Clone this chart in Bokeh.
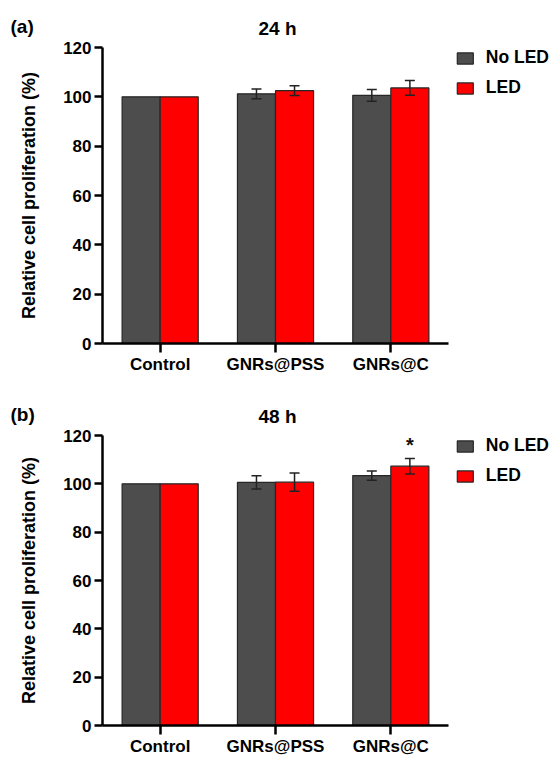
from bokeh.plotting import figure
from bokeh.models import (ColumnDataSource, Range1d, Whisker, TeeHead,
                          Legend, LegendItem, FixedTicker, Title)
from bokeh.transform import dodge
from bokeh.layouts import column
from bokeh.core.properties import value
from bokeh.embed import file_html
from bokeh.resources import INLINE

# ---------------- data ----------------
categories = ["Control", "GNRs@PSS", "GNRs@C"]
series_names = ["No LED", "LED"]

a_noled = [100.0, 101.2, 100.6]
a_noled_err = [0.0, 2.0, 2.4]
a_led = [100.0, 102.5, 103.6]
a_led_err = [0.0, 2.0, 3.0]

b_noled = [100.0, 100.6, 103.4]
b_noled_err = [0.0, 2.7, 1.9]
b_led = [100.0, 100.7, 107.3]
b_led_err = [0.0, 3.8, 3.2]
b_led_sig = ["", "", "*"]

y_ticks = [0, 20, 40, 60, 80, 100, 120]

panel_tags = ["(a)", "(b)"]
panel_titles = ["24 h", "48 h"]
y_label = "Relative cell proliferation (%)"

# ---------------- style ----------------
FONT = "Liberation Sans"
DARK = "#4d4d4d"
RED = "#ff0000"
EDGE = "#262626"
BW = 0.33
OFF = 0.165
W = 554
LEFT = 102
RIGHT = 5
AXIS_W = 346                      # pixel length of the drawn x axis
FW = W - LEFT - RIGHT             # full frame width (axis + legend area)
N = len(categories)
X_END = -0.5 + FW / (AXIS_W / N)  # extend range so the legend sits inside the frame
TITLE_PX = 19
TITLE_W = 2.0 * TITLE_PX          # approx. width of "24 h" in bold Arial metrics


def make_panel(tag, title, noled, noled_err, led, led_err, sig, height, top, bottom):
    xi = list(range(N))
    p = figure(width=W, height=height, x_range=Range1d(-0.5, X_END),
               y_range=Range1d(0, 120), output_backend="svg", toolbar_location=None,
               min_border_left=LEFT, min_border_right=RIGHT, min_border_top=top,
               min_border_bottom=bottom)
    p.outline_line_color = None
    p.grid.visible = False

    # titles: centred over the axis, panel tag at the far left on the same line
    p.title.text = title
    p.title.align = "left"
    p.title.offset = AXIS_W / 2 + 2 - TITLE_W / 2
    p.title.text_font = FONT
    p.title.text_font_style = "bold"
    p.title.text_font_size = f"{TITLE_PX}px"
    p.title.text_color = "black"
    p.title.standoff = -72
    p.add_layout(Title(text=tag, align="left", offset=-LEFT + 10, standoff=22,
                       text_font=FONT, text_font_style="bold", text_font_size=f"{TITLE_PX}px",
                       text_color="black"), "above")

    src = ColumnDataSource(dict(xi=xi, noled=noled, led=led))
    r1 = p.vbar(x=dodge("xi", -OFF), top="noled", width=BW, source=src,
                fill_color=DARK, line_color=EDGE, line_width=1.2)
    r2 = p.vbar(x=dodge("xi", OFF), top="led", width=BW, source=src,
                fill_color=RED, line_color=EDGE, line_width=1.2)

    for vals, errs, off in ((noled, noled_err, -OFF), (led, led_err, OFF)):
        idx = [i for i, e in enumerate(errs) if e > 0]
        wsrc = ColumnDataSource(dict(xi=idx,
                                     up=[vals[i] + errs[i] for i in idx],
                                     lo=[vals[i] - errs[i] for i in idx]))
        w = Whisker(base=dodge("xi", off), upper="up", lower="lo", source=wsrc,
                    line_color="#222222", line_width=1.5,
                    upper_head=TeeHead(size=10, line_color="#222222", line_width=1.5),
                    lower_head=TeeHead(size=10, line_color="#222222", line_width=1.5))
        w.level = "overlay"
        p.add_layout(w)

    if sig is not None:
        idx = [i for i, s in enumerate(sig) if s]
        ssrc = ColumnDataSource(dict(xi=idx,
                                     y=[led[i] + led_err[i] for i in idx],
                                     t=[sig[i] for i in idx]))
        p.text(x=dodge("xi", OFF), y="y", text="t", source=ssrc,
               text_font=value(FONT), text_font_style="bold", text_font_size="20px",
               text_align="center", text_baseline="middle", y_offset=-13, text_color="#111111")

    for ax in (p.xaxis[0], p.yaxis[0]):
        ax.axis_line_width = 2.5
        ax.axis_line_color = "black"
        ax.major_tick_line_width = 2.5
        ax.major_tick_line_color = "black"
        ax.major_tick_in = 0
        ax.minor_tick_line_color = None
        ax.major_label_text_font = FONT
        ax.major_label_text_font_style = "bold"
        ax.major_label_text_font_size = "17px"
        ax.major_label_text_color = "black"
    p.xaxis.bounds = (-0.5, N - 0.5)
    p.xaxis.ticker = FixedTicker(ticks=xi)
    p.xaxis.major_label_overrides = {i: c for i, c in zip(xi, categories)}
    p.xaxis.major_label_standoff = 2
    p.yaxis.major_label_standoff = 3
    p.xaxis.major_tick_out = 9
    p.yaxis.major_tick_out = 8
    p.yaxis.ticker = FixedTicker(ticks=y_ticks)
    p.yaxis.axis_label = y_label
    p.yaxis.axis_label_text_font = FONT
    p.yaxis.axis_label_text_font_style = "bold"
    p.yaxis.axis_label_text_font_size = "18px"
    p.yaxis.axis_label_text_color = "black"
    p.yaxis.axis_label_standoff = 21

    legend = Legend(items=[LegendItem(label=series_names[0], renderers=[r1]),
                           LegendItem(label=series_names[1], renderers=[r2])],
                    location="top_right", margin=0, padding=3, spacing=9,
                    glyph_width=20, glyph_height=14, label_standoff=11,
                    label_text_font=FONT, label_text_font_style="bold",
                    label_text_font_size="17.5px", label_text_color="black",
                    border_line_color=None, background_fill_alpha=0)
    p.add_layout(legend)
    return p


pa = make_panel(panel_tags[0], panel_titles[0], a_noled, a_noled_err, a_led, a_led_err, None,
                height=380, top=47, bottom=37)
pb = make_panel(panel_tags[1], panel_titles[1], b_noled, b_noled_err, b_led, b_led_err, b_led_sig,
                height=378, top=55, bottom=32)

layout = column(pa, pb, spacing=0)
open("out.html", "w").write(file_html(layout, INLINE))
